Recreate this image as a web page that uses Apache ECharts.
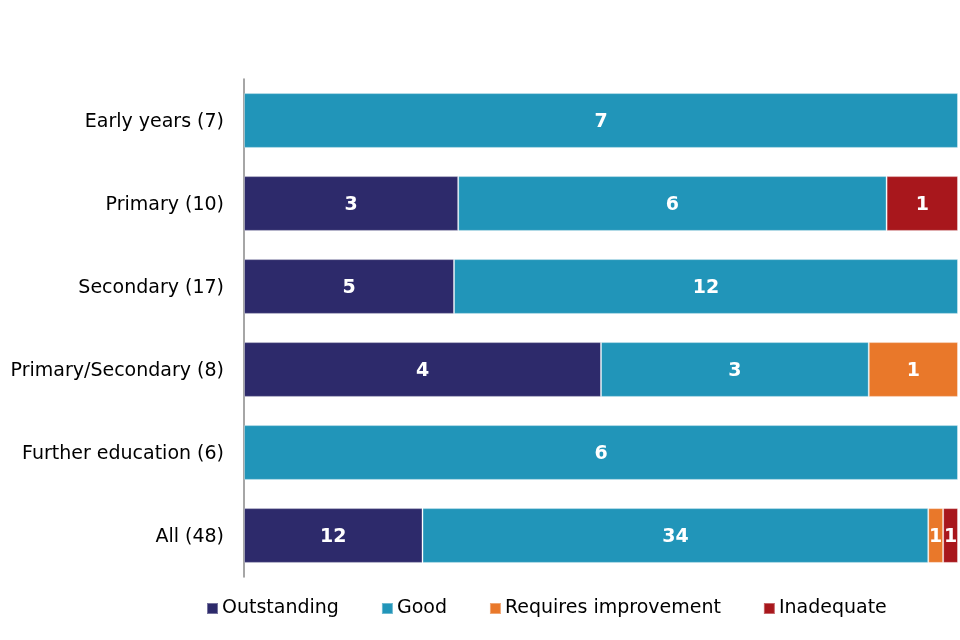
<!DOCTYPE html>
<html><head><meta charset="utf-8">
<script src="https://cdn.jsdelivr.net/npm/echarts@6/dist/echarts.min.js"></script>
<style>html,body{margin:0;padding:0;background:#fff}#c{width:960px;height:640px}</style>
</head><body><div id="c"></div>
<script>
const categories = ['Early years (7)','Primary (10)','Secondary (17)','Primary/Secondary (8)','Further education (6)','All (48)'];
const outstanding = [0,3,5,4,0,12];
const good = [7,6,12,3,6,34];
const requiresImprovement = [0,0,0,1,0,1];
const inadequate = [0,1,0,0,0,1];

const seriesDefs = [
  {name:'Outstanding', data:outstanding, color:'#2d2a6b'},
  {name:'Good', data:good, color:'#2195b9'},
  {name:'Requires improvement', data:requiresImprovement, color:'#e9782a'},
  {name:'Inadequate', data:inadequate, color:'#a8171c'}
];
const totals = categories.map((_,i)=>seriesDefs.reduce((s,d)=>s+d.data[i],0));
const FONT = 'DejaVu Sans';
const chart = echarts.init(document.getElementById('c'));
chart.setOption({
  animation:false,
  textStyle:{fontFamily:FONT},
  grid:{left:244,right:2,top:79,bottom:63},
  legend:{
    bottom:17, left:201, itemWidth:11, itemHeight:11, itemGap:42,
    icon:'rect',
    textStyle:{fontFamily:FONT,fontSize:19,color:'#000',padding:[0,0,0,-1]},
    data:seriesDefs.map(d=>d.name)
  },
  xAxis:{type:'value',min:0,max:100,show:false},
  yAxis:{type:'category',inverse:true,data:categories,
    axisLine:{show:true,lineStyle:{color:'#888',width:1.5}},
    axisTick:{show:false},
    axisLabel:{fontFamily:FONT,fontSize:19,color:'#000',margin:20,
      formatter:v=>'{a|'+v+'}',
      rich:{a:{fontFamily:FONT,fontSize:19,color:'#000',padding:[4,0,0,0]}}}},
  series:seriesDefs.map(d=>({
    name:d.name,type:'bar',stack:'t',barCategoryGap:'34%',
    itemStyle:{color:d.color,borderColor:'rgba(255,255,255,0.35)',borderWidth:1},
    label:{show:true,position:'inside',offset:[0,2],color:'#fff',fontWeight:'bold',fontSize:19,fontFamily:FONT,
      formatter:p=>d.data[p.dataIndex]?String(d.data[p.dataIndex]):''},
    data:d.data.map((v,i)=>v===0?null:v/totals[i]*100)
  }))
});
</script></body></html>
